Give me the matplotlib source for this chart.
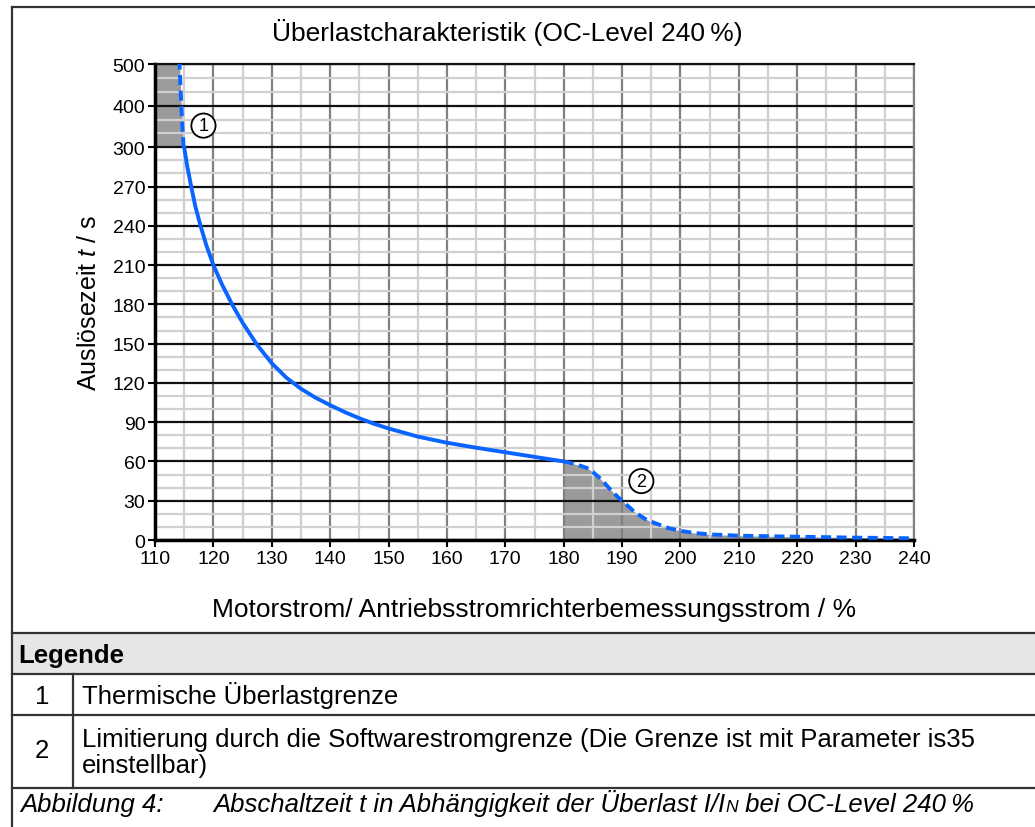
import numpy as np
import matplotlib
matplotlib.use("Agg")
import matplotlib.pyplot as plt
from matplotlib.lines import Line2D
from matplotlib.patches import Rectangle

plt.rcParams['font.family'] = ['Liberation Sans', 'DejaVu Sans']
plt.rcParams['mathtext.fontset'] = 'custom'
plt.rcParams['mathtext.rm'] = 'Liberation Sans'
plt.rcParams['mathtext.it'] = 'Liberation Sans:italic'

# thermische Kennlinie
strom_thermisch = [115.0, 115.5, 116.2, 116.9, 117.8, 118.8, 120.0, 121.5, 123.2, 125.0,
                   127.5, 130.0, 132.5, 135.0, 137.5, 140.0, 142.5, 145.0, 147.5, 150.0,
                   155.0, 160.0, 165.0, 170.0, 175.0, 180.0]
zeit_thermisch = [300, 286, 270, 255, 240, 225, 210, 195, 180, 166,
                  149, 135, 124, 115.5, 108.7, 103, 97.7, 93, 88.8, 85.2,
                  79, 74.3, 70.5, 67, 63.5, 60]

# Bereich 1: oberhalb 300 s
strom_grenze1 = [114.9, 114.7, 114.5, 114.35, 114.2]
zeit_grenze1 = [300, 350, 400, 450, 500]

# Bereich 2: Softwarestromgrenze
strom_grenze2 = [180, 181.5, 183, 184, 185, 186, 187, 188, 189, 190, 191, 192, 193, 194,
                 195, 196.5, 198, 200, 202.5, 205, 210, 220, 230, 240]
zeit_grenze2 = [60, 58.5, 56.5, 55, 52, 48, 43.5, 38.5, 34, 30, 26, 22, 18.8, 16,
                14, 11.5, 9, 7, 5.3, 4.3, 3.3, 2.5, 1.8, 1.3]

x_ticks = list(range(110, 241, 10))
y_ticks = [0, 30, 60, 90, 120, 150, 180, 210, 240, 270, 300, 400, 500]

W, H = 1035, 828
OBEN = 1.06  # Abstand der 100-s-Schritte oberhalb 300 s


def fwd(t):
    t = np.asarray(t, dtype=float)
    return np.where(t <= 300, t / 30.0, 10 + OBEN * (t - 300) / 100.0)


def inv(u):
    u = np.asarray(u, dtype=float)
    return np.where(u <= 10, u * 30.0, 300 + (u - 10) * 100.0 / OBEN)


def fx(px):
    return px / W


def fy(py):
    return 1 - py / H


fig = plt.figure(figsize=(W / 100, H / 100), dpi=100)
ax = fig.add_axes([fx(155), fy(541), fx(914) - fx(155), fy(65) - fy(541)])
ax.set_yscale('function', functions=(fwd, inv))
ax.set_xlim(110, 240)
ax.set_ylim(0, 500)

ax.set_xticks(x_ticks)
ax.set_xticks(np.arange(115, 240, 10), minor=True)
ax.set_yticks(y_ticks)
minor_y = [t for t in range(10, 300, 10) if t % 30 != 0]
minor_y += [300 + 100 / 3, 300 + 200 / 3, 400 + 100 / 3, 400 + 200 / 3]
ax.set_yticks(minor_y, minor=True)

ax.xaxis.grid(True, which='major', color='#808080', linewidth=1.6, zorder=1)
ax.xaxis.grid(True, which='minor', color='#d0d0d0', linewidth=1.6, zorder=1)
ax.yaxis.grid(True, which='minor', color='#d0d0d0', linewidth=1.6, zorder=1)
ax.yaxis.grid(True, which='major', color='#111111', linewidth=1.6, zorder=1)
ax.set_axisbelow(True)

ax.tick_params(which='minor', length=0)
ax.tick_params(which='major', direction='out', length=5, width=1.5, labelsize=14, pad=2)
for s in ['left', 'bottom']:
    ax.spines[s].set_linewidth(2.5)
    ax.spines[s].set_color('black')
ax.spines['top'].set_linewidth(1.6)
ax.spines['top'].set_color('#111111')
ax.spines['right'].set_linewidth(1.6)
ax.spines['right'].set_color('#808080')

blue = '#0a64ff'
gray_fill = '#9b9b9b'
ax.fill_betweenx(zeit_grenze1, 110, strom_grenze1, color=gray_fill, zorder=0.5, linewidth=0)
ax.fill_between(strom_grenze2, 0, zeit_grenze2, color=gray_fill, zorder=0.5, linewidth=0)
ax.plot(strom_thermisch, zeit_thermisch, color=blue, linewidth=2.8, zorder=3,
        solid_capstyle='round', solid_joinstyle='round')
ax.plot(strom_grenze1, zeit_grenze1, color=blue, linewidth=2.8, linestyle=(0, (2.6, 1.4)), zorder=3)
ax.plot(strom_grenze2, zeit_grenze2, color=blue, linewidth=2.8, linestyle=(0, (2.6, 1.4)), zorder=3)

circ = dict(boxstyle='circle,pad=0.2', facecolor='white', edgecolor='black', linewidth=1.3)
ax.text(118.3, 352, '1', fontsize=13, ha='center', va='center', bbox=circ, zorder=4)
ax.text(193.3, 45, '2', fontsize=13, ha='center', va='center', bbox=circ, zorder=4)

fig.text(fx(507), fy(33), 'Überlastcharakteristik (OC-Level 240\u2009%)', fontsize=19,
         ha='center', va='center')
ax.set_ylabel(r'Auslösezeit $\mathit{t}$ / s', fontsize=18, labelpad=8)
ax.set_xlabel('Motorstrom/ Antriebsstromrichterbemessungsstrom / %', fontsize=19, labelpad=22)

# Rahmen und Legendentabelle
lc = '#333333'
fig.add_artist(Rectangle((fx(12), fy(675)), 1, fy(634) - fy(675), transform=fig.transFigure,
                         facecolor='#e6e6e6', edgecolor='none', zorder=0))
for yy in [8, 634, 675, 716, 789]:
    fig.add_artist(Line2D([fx(12), 1], [fy(yy), fy(yy)], color=lc, linewidth=1.6,
                          transform=fig.transFigure))
fig.add_artist(Line2D([fx(12), fx(12)], [fy(8), 0], color=lc, linewidth=1.6,
                      transform=fig.transFigure))
fig.add_artist(Line2D([fx(73), fx(73)], [fy(675), fy(789)], color=lc, linewidth=1.6,
                      transform=fig.transFigure))

fs = 18.5
fig.text(fx(18), fy(663), 'Legende', fontsize=fs, fontweight='bold', va='baseline')
fig.text(fx(42), fy(704), '1', fontsize=fs, ha='center', va='baseline')
fig.text(fx(82), fy(704), 'Thermische Überlastgrenze', fontsize=fs, va='baseline')
fig.text(fx(42), fy(758), '2', fontsize=fs, ha='center', va='baseline')
fig.text(fx(82), fy(747), 'Limitierung durch die Softwarestromgrenze (Die Grenze ist mit Parameter is35',
         fontsize=fs, va='baseline')
fig.text(fx(82), fy(773), 'einstellbar)', fontsize=fs, va='baseline')
fig.text(fx(20), fy(812), 'Abbildung 4:', fontsize=fs, style='italic', va='baseline')

# Bildunterschrift mit kleinem N
renderer = fig.canvas.get_renderer()
x_pos = fx(213)
for teil, groesse in [('Abschaltzeit t in Abhängigkeit der Überlast I/I', fs),
                      ('N', fs * 0.68), (' bei OC-Level 240\u2009%', fs)]:
    t = fig.text(x_pos, fy(812), teil, fontsize=groesse, style='italic', va='baseline')
    bb = t.get_window_extent(renderer)
    x_pos = bb.x1 / W

fig.savefig('out.png', dpi=100)
